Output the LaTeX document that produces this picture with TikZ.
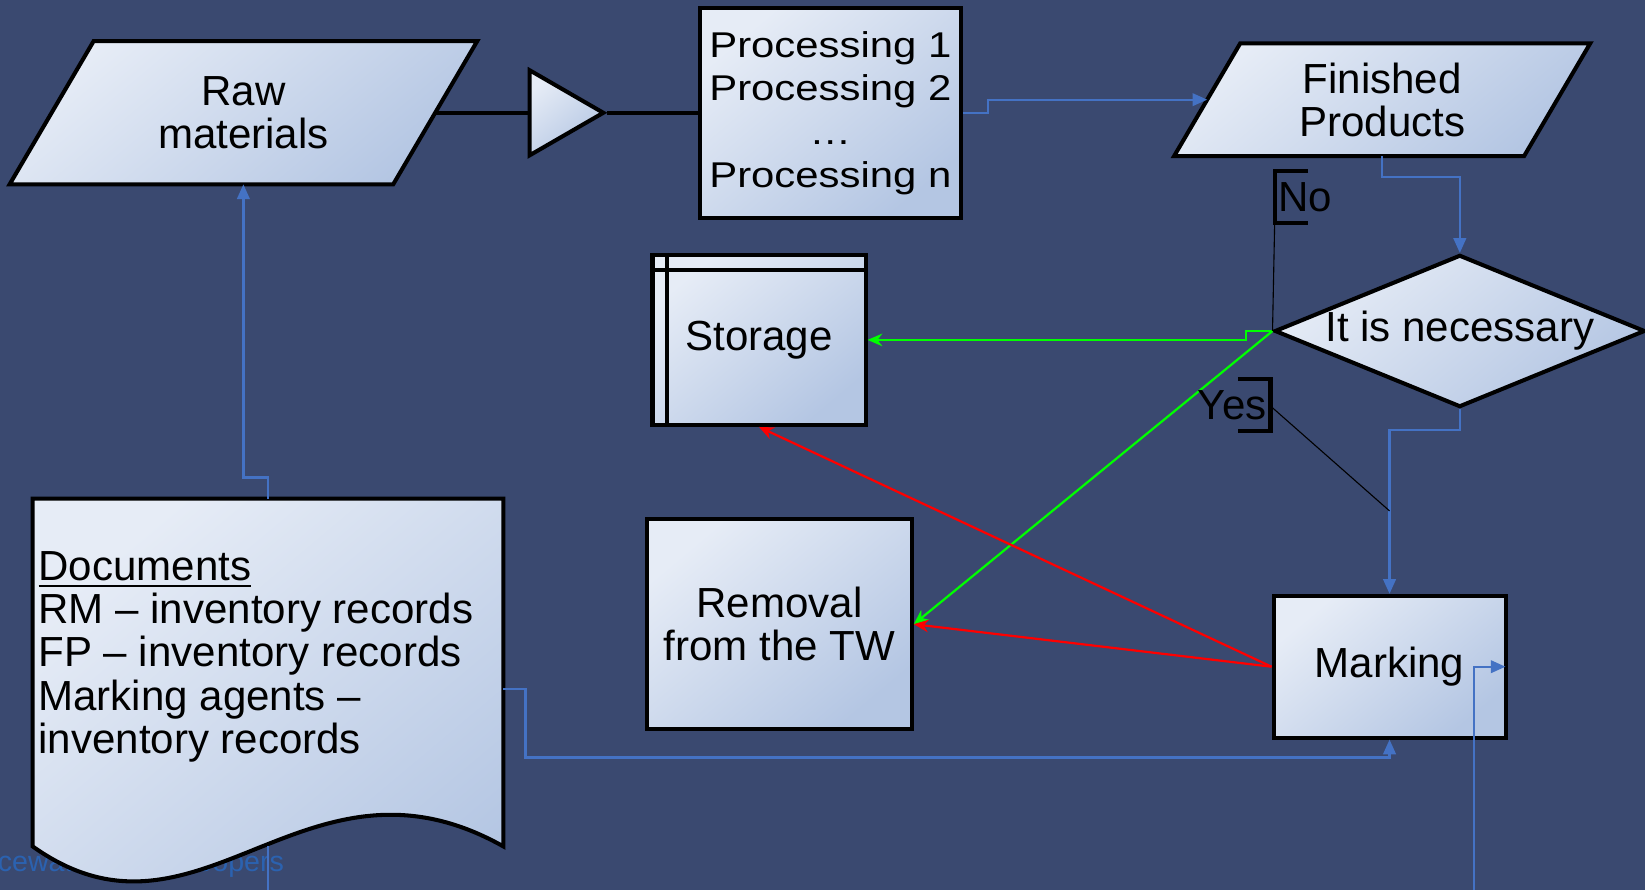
\documentclass[tikz,border=0pt]{standalone}
\usepackage{fontspec}
\setmainfont{Liberation Sans}
\newfontfamily\procfont[FakeStretch=1.17]{Liberation Sans}
\usetikzlibrary{arrows.meta,calc,shapes.geometric,backgrounds}
\definecolor{BackClr}{RGB}{58,73,112}
\definecolor{BoxHiClr}{RGB}{230,236,246}
\definecolor{BoxLoClr}{RGB}{180,198,227}
\definecolor{LinkClr}{RGB}{68,114,196}
\definecolor{GoClr}{RGB}{0,255,0}
\definecolor{BackRedClr}{RGB}{255,0,0}
\definecolor{PwcClr}{RGB}{43,98,176}

\begin{document}
\begin{tikzpicture}[x=0.01cm,y=-0.01cm,
  boxsty/.style={draw=black,line width=1.1pt,top color=BoxHiClr,bottom color=BoxLoClr,shading angle=40},
  txt/.style={inner sep=0pt,align=center,font=\fontsize{11.4}{11.7}\selectfont},
  proctxt/.style={font=\procfont\fontsize{9.7}{11.7}\selectfont},
  thk/.style={line width=1.1pt},
  link/.style={draw=LinkClr,line width=0.6pt,-{Triangle[length=1.4mm,width=1.2mm]}},
  linkplain/.style={draw=LinkClr,line width=0.6pt},
  goline/.style={draw=GoClr,line width=0.6pt,-{Stealth[length=1.4mm,width=1.2mm]}},
  backline/.style={draw=BackRedClr,line width=0.6pt,-{Stealth[length=1.4mm,width=1.2mm]}},
  thinln/.style={line width=0.3pt}]
\useasboundingbox (0,0) rectangle (1568,848);

\node[txt,minimum width=3.64cm,minimum height=1.35cm] (raw) at (232,107.5) {Raw\\materials};
\node[boxsty,regular polygon,regular polygon sides=3,shape border rotate=-90,minimum size=0.935cm,inner sep=0pt] (tri) at (528.3,107.5) {};
\node[boxsty,txt,proctxt,minimum width=2.49cm,minimum height=2cm] (proc) at (791.5,108) {Processing 1\\Processing 2\\\dots\\Processing n};
\node[txt,minimum width=3.32cm,minimum height=1.06cm] (fin) at (1317.5,95) {Finished\\Products};
\node[boxsty,txt,diamond,aspect=2.43,minimum width=3.53cm,minimum height=1.45cm] (dec) at (1391.5,315.5) {It is necessary};
\node[boxsty,txt,minimum width=2.03cm,minimum height=1.62cm] (stor) at (723.5,324) {Storage};
\node[boxsty,txt,minimum width=2.52cm,minimum height=2cm] (rem) at (743,595) {Removal\\from the TW};
\node[boxsty,txt,minimum width=2.21cm,minimum height=1.35cm] (mark) at (1324.5,635.5) {Marking};
\node[minimum width=4.47cm,minimum height=3.3cm] (docs) at (255.5,641) {};
\node[txt,align=left,anchor=west] (doctxt) at (36,626) {\underline{Documents}\\RM – inventory records\\FP – inventory records\\Marking agents –\\inventory records};

\draw[thk] ([xshift=0.16cm]stor.north west) -- ([xshift=0.16cm]stor.south west);
\draw[thk] ([yshift=-0.16cm]stor.north west) -- ([yshift=-0.16cm]stor.north east);

\begin{scope}[on background layer]
\fill[BackClr] (0,0) rectangle (1568,848);
\node[anchor=west,text=PwcClr,font=\fontsize{7.75}{9}\selectfont,inner sep=0pt] (pwc) at (-36,824) {PricewaterhouseCoopers};
\path[boxsty] ([xshift=0.4cm]raw.north west) -- ([xshift=0.4cm]raw.north east) -- ([xshift=-0.4cm]raw.south east) -- ([xshift=-0.4cm]raw.south west) -- cycle;
\path[boxsty] ([xshift=0.315cm]fin.north west) -- ([xshift=0.315cm]fin.north east) -- ([xshift=-0.315cm]fin.south east) -- ([xshift=-0.315cm]fin.south west) -- cycle;
\path[boxsty] (docs.north west) -- (docs.north east) -- (docs.south east) .. controls (290,700) and (190,920) .. (docs.south west) -- cycle;
\end{scope}

\draw[thk] (raw.east) -- (tri.west);
\draw[thk] (tri.east) -- (tri.east -| proc.west);
\draw[link] (proc.east) -- ++(24,0) |- (fin.west);
\draw[link] (fin.south) -- ++(0,20) -| (dec.north);
\draw[link] (dec.south) -- ++(0,20) -| (mark.north);
\draw[goline] (dec.west) -- ++(-25,0) |- (stor.east);
\draw[goline] (dec.west) -- (rem.east);
\draw[backline] (mark.west) -- (stor.south);
\draw[backline] (mark.west) -- (rem.east);
\draw[link] (docs.north) -- ++(0,-20) -| (raw.south);
\draw[link] ([yshift=-0.16cm]docs.east) -- ++(21,0) -- ++(0,65) -| (mark.south);
\coordinate (foot) at (1405,850);
\draw[link] (foot) |- ([xshift=-0.02cm]mark.east);
\draw[linkplain] (docs.south) -- ++(0,44);

\node[txt,anchor=west] (nolbl) at (1218,188) {No};
\coordinate (nobot) at (1215,213);
\draw[thk] (1247,163) -- (1215,163) -- (nobot) -- (1247,213);
\draw[thinln] (dec.west) -- (nobot);

\node[txt,anchor=east] (yeslbl) at (1208,386) {Yes};
\coordinate (yesmid) at (1211,387);
\coordinate (yesend) at (1324.5,487);
\draw[thk] (1180,361) -- (1211,361) -- (1211,411) -- (1180,411);
\draw[thinln] (yesmid) -- (yesend);
\end{tikzpicture}
\end{document}
